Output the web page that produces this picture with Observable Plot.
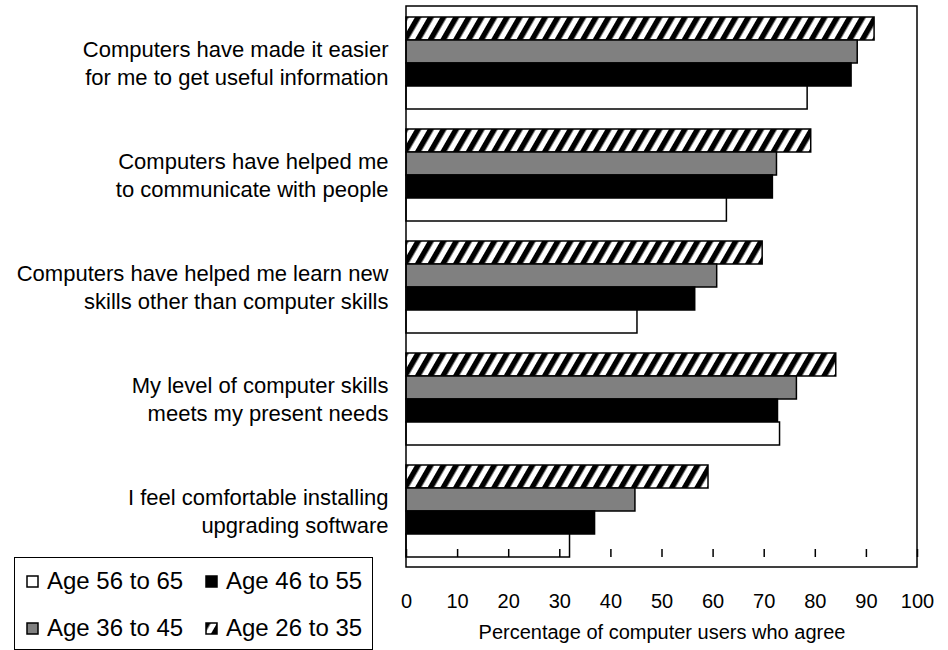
<!DOCTYPE html>
<html>
<head>
<meta charset="utf-8">
<script src="https://cdn.jsdelivr.net/npm/d3@7"></script>
<script src="https://cdn.jsdelivr.net/npm/@observablehq/plot@0.6"></script>
<style>
  html, body { margin: 0; padding: 0; background: #fff; }
  body { font-family: "Liberation Sans", Arial, sans-serif; color: #000; }
  #wrap { position: relative; width: 948px; height: 650px; overflow: hidden; }
  #defs { position: absolute; width: 0; height: 0; }
  #legend { position: absolute; left: 14px; top: 557px; width: 359px; height: 93px;
            border: 1.5px solid #000; box-sizing: border-box; background: #fff; }
  .item { position: absolute; display: flex; align-items: center; font-size: 24px; line-height: 1; white-space: nowrap; }
  .item svg { margin-right: 8px; }
</style>
</head>
<body>
<svg id="defs" width="0" height="0">
  <defs>
    <pattern id="hatch" patternUnits="userSpaceOnUse" width="11" height="11" patternTransform="rotate(30)">
      <rect width="11" height="11" fill="#fff"></rect>
      <rect width="5.5" height="11" fill="#000"></rect>
    </pattern>
  </defs>
</svg>
<div id="wrap"></div>
<script>
// ---- data ----
const categories = [
  "Computers have made it easier for me to get useful information",
  "Computers have helped me to communicate with people",
  "Computers have helped me learn new skills other than computer skills",
  "My level of computer skills meets my present needs",
  "I feel comfortable installing upgrading software"
];
const categoryLabels = [
  "Computers have made it easier\nfor me to get useful information",
  "Computers have helped me\nto communicate with people",
  "Computers have helped me learn new\nskills other than computer skills",
  "My level of computer skills\nmeets my present needs",
  "I feel comfortable installing\nupgrading software"
];
const series = ["Age 26 to 35", "Age 36 to 45", "Age 46 to 55", "Age 56 to 65"];
const age26to35 = [91.6, 79.2, 69.7, 84.1, 59.1];
const age36to45 = [88.3, 72.5, 60.8, 76.4, 44.8];
const age46to55 = [87.1, 71.7, 56.5, 72.7, 36.9];
const age56to65 = [78.5, 62.7, 45.2, 73.1, 32.0];
const xTicks = [0, 10, 20, 30, 40, 50, 60, 70, 80, 90, 100];
const legendOrder = ["Age 56 to 65", "Age 46 to 55", "Age 36 to 45", "Age 26 to 35"];
const xLabel = "Percentage of computer users who agree";

// ---- build ----
const seriesValues = [age26to35, age36to45, age46to55, age56to65];
const fills = {
  "Age 26 to 35": "url(#hatch)",
  "Age 36 to 45": "#808080",
  "Age 46 to 55": "#000000",
  "Age 56 to 65": "#ffffff"
};
const rows = categories.flatMap((c, i) =>
  series.map((s, j) => ({category: c, series: s, value: seriesValues[j][i]})));

const W = 948, H = 650, ML = 406, MR = 31, MT = 6, MB = 83;
const font = "'Liberation Sans', Arial, sans-serif";

const chart = Plot.plot({
  width: W, height: H,
  marginLeft: ML, marginRight: MR, marginTop: MT, marginBottom: MB,
  style: {fontFamily: font, color: "#000", background: "transparent", overflow: "visible"},
  x: {domain: [0, 100]},
  fy: {domain: categories, paddingInner: 0.17, paddingOuter: 0.085, axis: null, label: null},
  y: {domain: series, padding: 0, axis: null, label: null},
  color: {type: "identity"},
  marks: [
    Plot.barX(rows, {
      x: "value", y: "series", fy: "category",
      fill: d => fills[d.series],
      stroke: "#000", strokeWidth: 1.5
    }),
    Plot.text(categories, {
      fy: d => d, text: (d, i) => categoryLabels[i],
      frameAnchor: "left", textAnchor: "end", dx: -18, dy: -1,
      fontSize: 22, lineHeight: 1.3, fill: "#000"
    }),
    Plot.axisX(xTicks, {
      tickSize: 0, tickPadding: 36, fontSize: 20,
      label: xLabel, labelAnchor: "center", labelOffset: 81, labelArrow: "none"
    }),
    Plot.axisX(xTicks, {
      tickSize: 8, dy: -8, strokeWidth: 1.5, tickFormat: () => "", label: null
    })
  ]
});

const svg = d3.select(chart);
svg.append("rect")
  .attr("x", ML).attr("y", MT)
  .attr("width", W - ML - MR).attr("height", H - MT - MB)
  .attr("fill", "none").attr("stroke", "#000").attr("stroke-width", 1.5);

const wrap = document.getElementById("wrap");
wrap.appendChild(chart);

// ---- legend ----
const legend = d3.select(wrap).append("div").attr("id", "legend");
const itemPos = [[11, 11], [190, 11], [11, 58], [190, 58]];
legendOrder.forEach((s, k) => {
  const it = legend.append("div").attr("class", "item")
    .style("left", itemPos[k][0] + "px").style("top", itemPos[k][1] + "px");
  const sw = it.append("svg").attr("width", 13).attr("height", 13);
  sw.append("rect").attr("x", 1).attr("y", 1).attr("width", 11).attr("height", 11)
    .attr("fill", fills[s]).attr("stroke", "#000").attr("stroke-width", 1.5);
  it.append("span").text(s);
});
</script>
</body>
</html>
